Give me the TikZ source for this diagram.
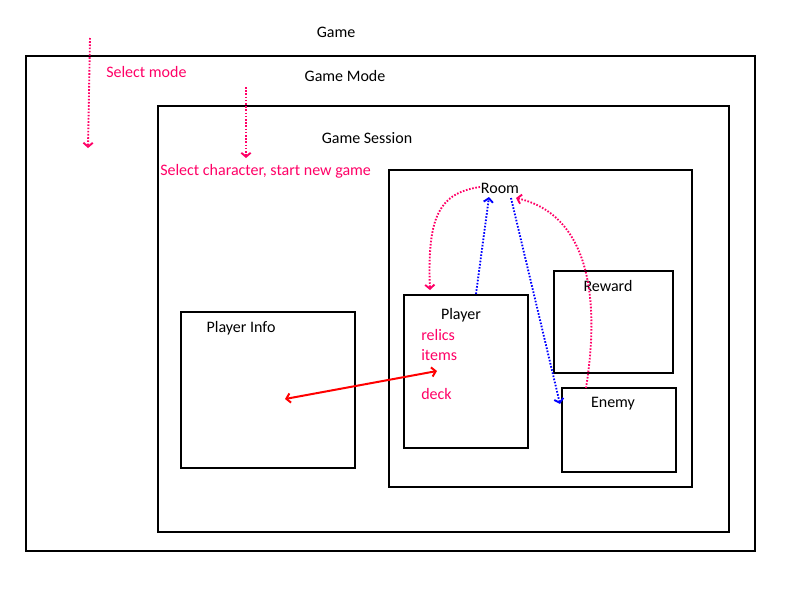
\documentclass[tikz,border=0pt]{standalone}
\usepackage{fontspec}
\setmainfont{Carlito}
\usetikzlibrary{arrows.meta,calc}
\definecolor{pinkc}{RGB}{255,0,102}
\definecolor{bluec}{RGB}{0,0,255}
\definecolor{redc}{RGB}{255,0,0}
\tikzset{
  box/.style={draw=black, line width=1.5pt, inner sep=0pt, fill=none},
  lbl/.style={inner sep=0pt, font=\fontsize{12pt}{14pt}\selectfont, text=black},
  plbl/.style={lbl, text=pinkc},
  tip/.style={-{Straight Barb[length=3pt,width=7pt]}},
  dots/.style={line width=1.4pt, dash pattern=on 1.2pt off 1.2pt},
  pinkarrow/.style={dots, draw=pinkc, tip},
  bluearrow/.style={dots, draw=bluec, tip},
}
\begin{document}
\begin{tikzpicture}[x=0.75pt,y=-0.75pt]
\useasboundingbox (0,0) rectangle (800,600);
% boxes
\node[box, minimum width=546.75pt, minimum height=371.25pt] (outer) at (390.5,303.5) {};
\node[box, minimum width=428.25pt, minimum height=319.5pt] (mode) at (443.5,319) {};
\node[box, minimum width=227.25pt, minimum height=237.75pt] (session) at (540.5,328.5) {};
\node[box, minimum width=130.5pt, minimum height=117pt] (pinfo) at (268,390) {};
\node[box, minimum width=93pt, minimum height=114.75pt] (player) at (466,371.5) {};
\node[box, minimum width=89.25pt, minimum height=76.5pt] (reward) at (613.5,322) {};
\node[box, minimum width=85.5pt, minimum height=63pt] (enemy) at (619,430) {};
% labels
\node[lbl] (game) at (336,32) {Game};
\node[lbl] (gamemode) at (345,76) {Game Mode};
\node[lbl] (gamesession) at (367,138) {Game Session};
\node[lbl] (room) at (500,188) {Room};
\node[lbl] (pinfolbl) at (241,328) {Player Info};
\node[lbl] (playerlbl) at (461,315) {Player};
\node[lbl] (rewardlbl) at (608,286) {Reward};
\node[lbl] (enemylbl) at (613,404) {Enemy};
\node[plbl, anchor=west] (selmode) at (106,72) {Select mode};
\node[plbl, anchor=west] (selchar) at (160,171) {Select character, start new game};
\node[plbl, anchor=west] (relics) at (421,335) {relics};
\node[plbl, anchor=west] (items) at (421,355) {items};
\node[plbl, anchor=west] (deck) at (421,394) {deck};
% arrow end points
\coordinate (a1s) at (90,38);
\coordinate (a1e) at (88,148);
\coordinate (a2s) at (246,87);
\coordinate (a2e) at (246,158);
\coordinate (c1s) at (480,187);
\coordinate (c1e) at (430,290);
\coordinate (b1s) at (476,294);
\coordinate (b1e) at (489,197);
\coordinate (b2s) at (511,198);
\coordinate (b2e) at (560,404);
\coordinate (c2s) at (586,388);
\coordinate (c2e) at (516,198);
\coordinate (r1) at (285,399);
\coordinate (r2) at (437,371);
% connectors
\draw[pinkarrow] (a1s) -- (a1e);
\draw[pinkarrow] (a2s) -- (a2e);
\draw[pinkarrow] (c1s) .. controls (440,193) and (427,215) .. (c1e);
\draw[bluearrow] (b1s) -- (b1e);
\draw[bluearrow] (b2s) -- (b2e);
\draw[pinkarrow] (c2s) .. controls (600,300) and (590,215) .. (c2e);
\draw[draw=redc, line width=1.5pt, {Straight Barb[length=3pt,width=7pt]}-{Straight Barb[length=3pt,width=7pt]}] (r1) -- (r2);
\end{tikzpicture}
\end{document}
